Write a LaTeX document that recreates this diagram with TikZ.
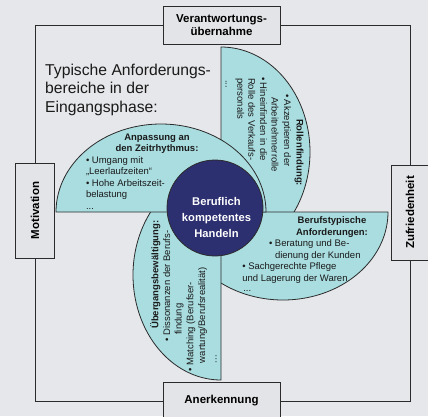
\documentclass[tikz,border=0pt]{standalone}
\usepackage{fontspec}
\setmainfont{Liberation Sans}
\definecolor{bgcol}{HTML}{E6E7EA}
\definecolor{boxcol}{HTML}{E3E4E7}
\definecolor{petalcol}{HTML}{A9DDE0}
\definecolor{navycol}{HTML}{2C2F70}
\definecolor{edgecol}{HTML}{2B2B2B}
\definecolor{txtcol}{HTML}{1A1A1A}
\begin{document}
\begin{tikzpicture}[x=1pt,y=-1pt,
  petal/.style={fill=petalcol,draw=edgecol,line width=0.8pt},
  ptx/.style={inner sep=0pt,outer sep=0pt,text=txtcol,font=\fontsize{9.5}{11.5}\selectfont},
  ptb/.style={inner sep=0pt,outer sep=0pt,text=txtcol,font=\fontsize{9.5}{11.5}\selectfont\bfseries},
  sidebox/.style={draw=edgecol,fill=boxcol,line width=0.8pt,inner sep=0pt,align=center,text=black,font=\fontsize{11.5}{13}\selectfont\bfseries},
  frameline/.style={draw=edgecol,line width=1pt},
  titletext/.style={anchor=base west,inner sep=0pt,text=txtcol,font=\fontsize{15.7}{18}\selectfont},
]
\useasboundingbox (0,0) rectangle (428,416);
\clip (0,0) rectangle (428,416);
\fill[bgcol] (0,0) rectangle (428,416);

% side boxes
\node[sidebox,minimum width=117pt,minimum height=38pt] (top) at (221.5,25.5) {Verantwortungs-\\übernahme};
\node[sidebox,minimum width=117pt,minimum height=38pt] (bottom) at (221.5,401) {Anerkennung};
\node[sidebox,rotate=90,minimum width=95pt,minimum height=38.5pt] (left) at (35,210.5) {Motivation};
\node[sidebox,rotate=90,minimum width=95pt,minimum height=37pt] (right) at (410,212.5) {Zufriedenheit};

% frame connectors
\draw[frameline] (top.east) -| (right.east);
\draw[frameline] (right.west) |- (bottom.east);
\draw[frameline] (bottom.west) -| (left.west);
\draw[frameline] (left.east) |- (top.west);

% title
\node[titletext] (ti1) at (45,75.5) {Typische Anforderungs-};
\node[titletext] (ti2) at (45,93.6) {bereiche in der};
\node[titletext] (ti3) at (45,112) {Eingangsphase:};

% petals
\draw[petal] plot[domain=0:180,samples=100] ({221+89*sin(\x)},{152-105*cos(\x)}) -- cycle;
\draw[petal] plot[domain=0:180,samples=100] ({283+105*cos(\x)},{212+88*sin(\x)}) -- cycle;
\draw[petal] plot[domain=0:180,samples=100] ({221-88*sin(\x)},{275+105*cos(\x)}) -- cycle;
\draw[petal] plot[domain=0:180,samples=100] ({161+105*cos(\x)},{212-88*sin(\x)}) -- cycle;

% centre
\node[circle,fill=navycol,draw=edgecol,line width=0.8pt,minimum size=96pt,inner sep=0pt] (core) at (215,208) {};
\node[inner sep=0pt,align=center,text=white,font=\fontsize{11.2}{16}\selectfont\bfseries] (coretext) at (216.5,217) {Beruflich\\kompetentes\\Handeln};

% top-left petal text
\node[ptb,anchor=base] (a1) at (157,140) {Anpassung an};
\node[ptb,anchor=base] (a2) at (157,151.6) {den Zeitrhythmus:};
\node[ptx,anchor=base west] (a3) at (86,163.3) {• Umgang mit};
\node[ptx,anchor=base west] (a4) at (86,174.3) {„Leerlaufzeiten“};
\node[ptx,anchor=base west] (a5) at (86,186) {• Hohe Arbeitszeit-};
\node[ptx,anchor=base west] (a6) at (86,197.6) {belastung};
\node[ptx,anchor=base west] (a7) at (86,209.5) {...};

% top-right petal text (reads downwards)
\node[ptb,rotate=-90,anchor=base] (b1) at (296.7,152.5) {Rollenfindung:};
\node[ptx,rotate=-90,anchor=base west] (b2) at (284,94) {• Akzeptieren der};
\node[ptx,rotate=-90,anchor=base west] (b3) at (271.7,97) {Arbeitnehmerrolle};
\node[ptx,rotate=-90,anchor=base west] (b4) at (260,77) {• Hineinfinden in die};
\node[ptx,rotate=-90,anchor=base west] (b5) at (248.4,78) {Rolle des Verkaufs-};
\node[ptx,rotate=-90,anchor=base west] (b6) at (237.4,78) {personals};
\node[ptx,rotate=-90,anchor=base west] (b7) at (225.7,80) {...};

% bottom-right petal text
\node[ptb,anchor=base] (c1) at (332,223.6) {Berufstypische};
\node[ptb,anchor=base] (c2) at (332,235.3) {Anforderungen:};
\node[ptx,anchor=base west] (c3) at (269,246.3) {• Beratung und Be-};
\node[ptx,anchor=base west] (c4) at (275,258) {dienung der Kunden};
\node[ptx,anchor=base west] (c5) at (242.3,269.6) {• Sachgerechte Pflege};
\node[ptx,anchor=base west] (c6) at (242.3,281.3) {und Lagerung der Waren};
\node[ptx,anchor=base west] (c7) at (243.3,291) {...};

% bottom-left petal text (reads upwards)
\node[ptb,rotate=90,anchor=base] (d1) at (158.3,274.7) {Übergangsbewältigung:};
\node[ptx,rotate=90,anchor=base west] (d2) at (170,341.3) {• Dissonanzen der Berufs-};
\node[ptx,rotate=90,anchor=base west] (d3) at (181.6,334.7) {findung};
\node[ptx,rotate=90,anchor=base west] (d4) at (193.3,371.3) {• Matching (Berufser-};
\node[ptx,rotate=90,anchor=base west] (d5) at (205,363) {wartung/Berufsrealität)};
\node[ptx,rotate=90,anchor=base west] (d6) at (216.5,363) {...};
\end{tikzpicture}
\end{document}
